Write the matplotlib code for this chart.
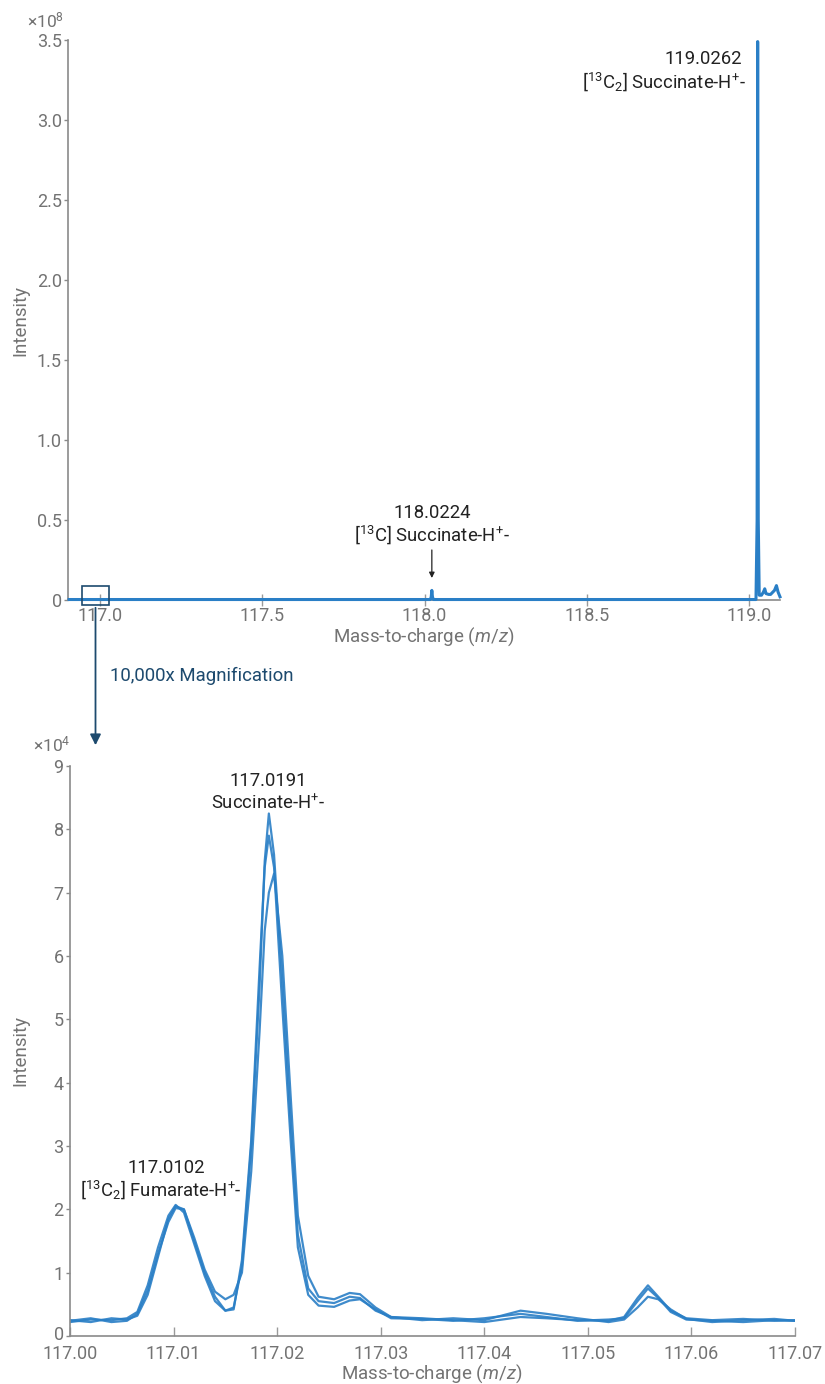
import matplotlib
matplotlib.use("Agg")
import matplotlib.pyplot as plt
from matplotlib.patches import Rectangle
from matplotlib.transforms import ScaledTranslation

plt.rcParams['font.family'] = ['Roboto', 'DejaVu Sans']
plt.rcParams['mathtext.fontset'] = 'custom'
plt.rcParams['mathtext.rm'] = 'Roboto'
plt.rcParams['mathtext.it'] = 'Roboto:italic'

# full scan spectrum (intensity x1e8)
top_mz = [116.905, 118.018, 118.0205, 118.0224, 118.0243, 118.027,
          119.021, 119.0245, 119.0262, 119.028, 119.031, 119.038, 119.044,
          119.048, 119.052, 119.060, 119.066, 119.078, 119.084, 119.089, 119.095]
top_int = [0.003, 0.003, 0.02, 0.06, 0.02, 0.003,
           0.003, 0.5, 3.49, 0.5, 0.03, 0.03, 0.05,
           0.07, 0.04, 0.035, 0.035, 0.06, 0.09, 0.05, 0.02]
top_xticks = [117.0, 117.5, 118.0, 118.5, 119.0]
top_yticks = [0, 0.5, 1.0, 1.5, 2.0, 2.5, 3.0, 3.5]
top_ylabels = ['0', '0.5', '1.0', '1.5', '2.0', '2.5', '3.0', '3.5']

# magnified region, three overlaid scans (intensity x1e4)
zoom_mz = [117.000, 117.002, 117.004, 117.0055, 117.0065, 117.0075, 117.0085,
           117.0095, 117.0102, 117.011, 117.012, 117.013, 117.014, 117.015,
           117.0158, 117.0166, 117.0175, 117.0183, 117.0188, 117.0192, 117.0197,
           117.0205, 117.0213, 117.022, 117.023, 117.024, 117.0255, 117.027,
           117.028, 117.0295, 117.031, 117.034, 117.037, 117.040, 117.0435,
           117.046, 117.049, 117.052, 117.0535, 117.0548, 117.0558, 117.0568,
           117.058, 117.0595, 117.062, 117.065, 117.068, 117.070]
scan_a = [0.22, 0.26, 0.25, 0.28, 0.38, 0.80, 1.40, 1.90, 2.07, 1.95, 1.45, 0.95,
          0.55, 0.40, 0.45, 1.10, 3.00, 5.50, 7.50, 8.25, 7.60, 5.60, 3.40, 1.60,
          0.75, 0.55, 0.52, 0.62, 0.60, 0.40, 0.30, 0.28, 0.25, 0.22, 0.30, 0.28,
          0.25, 0.24, 0.30, 0.60, 0.80, 0.62, 0.40, 0.28, 0.25, 0.27, 0.24, 0.25]
scan_b = [0.25, 0.22, 0.28, 0.26, 0.32, 0.65, 1.25, 1.85, 2.05, 2.00, 1.55, 1.05,
          0.70, 0.58, 0.65, 1.00, 2.60, 4.80, 6.40, 7.00, 7.30, 6.00, 3.80, 1.90,
          0.95, 0.62, 0.58, 0.68, 0.66, 0.45, 0.30, 0.25, 0.28, 0.25, 0.40, 0.35,
          0.28, 0.22, 0.26, 0.45, 0.62, 0.58, 0.42, 0.27, 0.22, 0.25, 0.27, 0.24]
scan_c = [0.24, 0.28, 0.22, 0.24, 0.35, 0.72, 1.30, 1.80, 2.02, 2.00, 1.50, 1.00,
          0.62, 0.40, 0.42, 1.20, 3.10, 5.80, 7.40, 7.90, 7.40, 5.20, 3.10, 1.40,
          0.65, 0.48, 0.46, 0.56, 0.58, 0.42, 0.28, 0.27, 0.24, 0.28, 0.35, 0.30,
          0.24, 0.26, 0.28, 0.55, 0.75, 0.60, 0.38, 0.26, 0.24, 0.22, 0.25, 0.24]
zoom_xticks = [117.00, 117.01, 117.02, 117.03, 117.04, 117.05, 117.06, 117.07]
zoom_yticks = [0, 1, 2, 3, 4, 5, 6, 7, 8, 9]

blue = '#2a7fc6'
navy = '#1d4a6e'
grey = '#737373'
ink = '#222222'

W, H = 825, 1384
fig = plt.figure(figsize=(W / 100, H / 100), dpi=100)


def style(ax, xdir, xlen, xpad):
    for s in ['top', 'right']:
        ax.spines[s].set_visible(False)
    for s in ['left', 'bottom']:
        ax.spines[s].set_color('#8a8a8a')
        ax.spines[s].set_linewidth(1.2)
    ax.tick_params(axis='y', direction='out', length=3, width=1, colors='#8a8a8a',
                   labelcolor=grey, labelsize=13, pad=1.5)
    ax.tick_params(axis='x', direction=xdir, length=xlen, width=1, colors='#9a9a9a',
                   labelcolor=grey, labelsize=13, pad=xpad)


# ---- top: full spectrum
ax1 = fig.add_axes([68 / W, 1 - 600 / H, 712 / W, 560 / H])
ax1.plot(top_mz, top_int, color=blue, lw=2.2, clip_on=False, zorder=3)
ax1.set_xlim(116.9015, 119.095)
ax1.set_ylim(0, 3.5)
ax1.set_xticks(top_xticks)
ax1.set_xticklabels([f'{t:.1f}' for t in top_xticks])
ax1.set_yticks(top_yticks)
ax1.set_yticklabels(top_ylabels)
style(ax1, 'inout', 9, 0.5)

ax1.text(118.977, 3.38, '119.0262', ha='right', va='center', fontsize=13.3, color=ink)
ax1.text(118.989, 3.24, '[$^{13}$C$_2$] Succinate-H$^{+}$-', ha='right', va='center',
         fontsize=13.3, color=ink)
ax1.text(118.0224, 0.545, '118.0224', ha='center', va='center', fontsize=13.3, color=ink)
ax1.text(118.0224, 0.41, '[$^{13}$C] Succinate-H$^{+}$-', ha='center', va='center',
         fontsize=13.3, color=ink)
ax1.annotate('', xy=(118.0224, 0.12), xytext=(118.0224, 0.33),
             arrowprops=dict(arrowstyle='-|>', color=ink, lw=0.9, mutation_scale=8))

# magnification box and arrow
ax1.add_patch(Rectangle((116.9446, -0.031), 0.0831, 0.118, fill=False,
                        edgecolor=navy, lw=1.2, clip_on=False, zorder=4))
fig.text(27 / W, 1 - 20 / H, '×10$^{8}$', ha='left', va='center', fontsize=12.5, color=grey)
fig.text(20 / W, 1 - 320 / H, 'Intensity', rotation=90, ha='center', va='center',
         fontsize=13.5, color=grey)
fig.text(424 / W, 1 - 637 / H, 'Mass-to-charge ($\\it{m/z}$)', ha='center', va='center',
         fontsize=13.5, color=grey)

fig.patches.append(matplotlib.patches.FancyArrowPatch(
    (95.5 / W, 1 - 605 / H), (95.5 / W, 1 - 748 / H), transform=fig.transFigure,
    arrowstyle='-|>', mutation_scale=16, color=navy, lw=1.3))
fig.text(110 / W, 1 - 676 / H, '10,000x Magnification', ha='left', va='center',
         fontsize=13.4, color=navy)

# ---- bottom: magnified region
ax2 = fig.add_axes([70 / W, 1 - 1336 / H, 725 / W, 570 / H])
for scan in [scan_a, scan_b, scan_c]:
    ax2.plot(zoom_mz, scan, color=blue, lw=1.6, alpha=0.9)
ax2.set_xlim(117.0, 117.07)
ax2.set_ylim(0, 9)
ax2.set_xticks(zoom_xticks)
ax2.set_xticklabels([f'{t:.2f}' for t in zoom_xticks])
ax2.set_yticks(zoom_yticks)
style(ax2, 'in', 6.5, 6.5)
# nudge the "0" label up a touch so it clears "117.00"
zero_lbl = ax2.get_yticklabels()[0]
zero_lbl.set_transform(zero_lbl.get_transform() + ScaledTranslation(0, 2.5 / 72, fig.dpi_scale_trans))

ax2.text(117.0191, 8.76, '117.0191', ha='center', va='center', fontsize=13.3, color=ink)
ax2.text(117.0191, 8.41, 'Succinate-H$^{+}$-', ha='center', va='center', fontsize=13.3,
         color=ink)
ax2.text(117.0093, 2.66, '117.0102', ha='center', va='center', fontsize=13.3, color=ink)
ax2.text(117.0088, 2.31, '[$^{13}$C$_2$] Fumarate-H$^{+}$-', ha='center', va='center',
         fontsize=13.3, color=ink)

fig.text(33 / W, 1 - 744 / H, '×10$^{4}$', ha='left', va='center', fontsize=12.5, color=grey)
fig.text(20 / W, 1 - 1051 / H, 'Intensity', rotation=90, ha='center', va='center',
         fontsize=13.5, color=grey)
fig.text(432 / W, 1 - 1374 / H, 'Mass-to-charge ($\\it{m/z}$)', ha='center', va='center',
         fontsize=13.5, color=grey)

fig.savefig('out.png', dpi=100)
